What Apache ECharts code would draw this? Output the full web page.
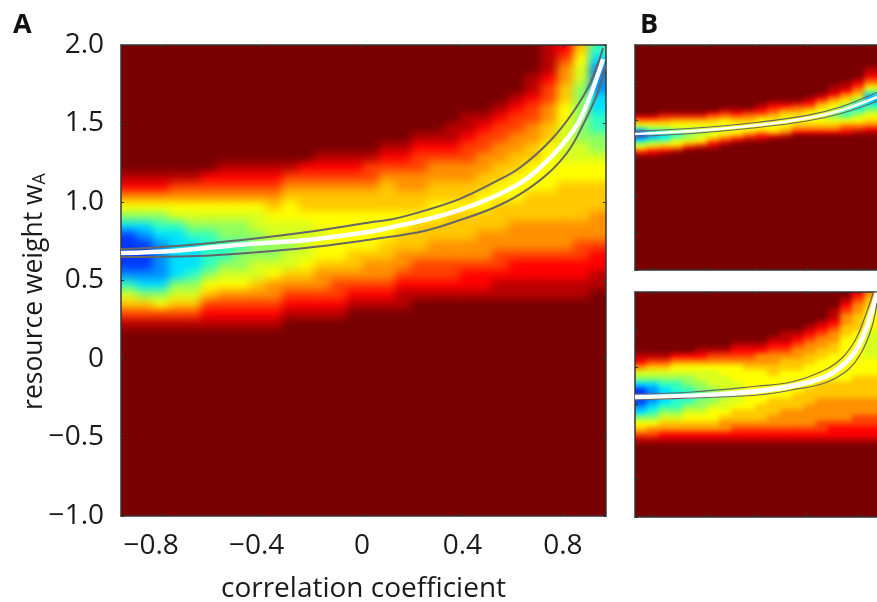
<!DOCTYPE html>
<html><head><meta charset="utf-8">
<style>
html,body{margin:0;padding:0;background:#fff;width:877px;height:602px;overflow:hidden}
#c{width:900px;height:602px}
#c canvas[data-zr-dom-id="zr_0"]{filter:blur(4.5px);clip-path:path('M121 45H606V516H121Z')}
#c canvas[data-zr-dom-id="zr_1"]{filter:blur(2.5px);clip-path:path('M635 45H900V270H635Z M635 292H900V517H635Z')}
</style>
<script src="https://cdn.jsdelivr.net/npm/echarts@6/dist/echarts.min.js"></script>
</head><body><div id="c"></div>
<script>
// Colour level per heat cell: 0 = blue ... c = dark red.
// Each column: first non-background row (from the top) and the levels from there down.
const mainStarts = [13,13,13,13,13,13,12,12,12,12,12,12,11,11,11,11,10,10,9,9,8,7,7,6,5,3,0,0,0,0];
const mainLevels = ['ba8642000013579b','ba8642100012479b','ba8643211112469b','b98653222224579b','b98654322234579b','a9865433334679ab',
'ba9865443345689ab','ba9865443445689ab','ba9865544455789ab','ba9876554456889ab','b9876655455789ab','a9877655556789ab',
'ba9877665667889ab','ba9877666667899ab','ba987766667789ab','b9987766667889ab','ba9877766677889ab','ba988776677889abb',
'ba9988776777899ab','ba9887766778899ab','bba9887767778899ab','bba9988776777889aab','ba99887766778889aab','ba998877667778899abb',
'ba998877666778889aabb','bba9988776667778889aabb','bbba998877666667778889aabb','a988776655556677778889aabb','7655444444556677778899aabb','321112233445667778889aabb'];
const topStarts = [19,19,18,18,18,18,18,17,17,17,16,15,15,15,14,13,11,10,9,6];
const topLevels = ['a863002469b','a86421357ab','b986432368a','b976533568b','b97654457a','b97654568b',
'a8765568ab','b98665679b','ba876668a','b9876679b','ba976668ab','ba9876667a','ba8766678b',
'b9876678a','ba9766678a','ba87655678a','bba876544678a','bba8764334689a','ba987532345689b','bba9864212345678ab'];
const botStarts = [11,11,11,11,11,10,10,10,9,9,9,8,7,7,6,5,3,1,0,0];
const botLevels = ['ba8542000124679b','b97542111234689b','b9754322234578ab','a8654332334578ab','a8654433345678ab','ba8655443445678ab',
'b98655544456678ab','b98665554556788ab','ba98666555567789ab','ba98766666667789ab','ba88766666677789ab','ba988776666777889ab',
'bba987766666778889ab','ba9887766667778889ab','ba98877666677788889ab','ba988776666777888899ab','bba988776666677788889aab','ba988776666666677788889aab',
'a98877766666666777788899aab','877666655555666777788899aab'];

// Curves.
const aMidX = [-0.96,-0.74,-0.47,-0.21,0.03,0.12,0.26,0.39,0.52,0.63,0.71,0.79,0.86,0.91,0.96];
const aMidY = [0.675,0.69,0.73,0.76,0.81,0.84,0.89,0.95,1.03,1.12,1.22,1.35,1.50,1.68,1.91];
const aUpX = [-0.96,-0.74,-0.47,-0.21,0.03,0.12,0.26,0.39,0.52,0.63,0.75,0.84,0.91,0.96];
const aUpY = [0.70,0.72,0.76,0.81,0.87,0.89,0.95,1.02,1.12,1.22,1.39,1.57,1.76,1.98];
const aLowX = [-0.96,-0.66,-0.42,-0.21,0.03,0.12,0.26,0.39,0.52,0.63,0.74,0.82,0.88,0.94,0.97];
const aLowY = [0.65,0.656,0.68,0.71,0.76,0.78,0.82,0.885,0.96,1.05,1.18,1.32,1.49,1.70,1.87];
const bX = [-0.95,-0.5,0.016,0.41,0.675,0.95];
const bMidY = [0.813,0.853,0.933,1.027,1.133,1.307];
const bUpY = [0.85,0.89,0.97,1.065,1.18,1.37];
const bLowY = [0.78,0.82,0.90,0.99,1.09,1.25];
const cMidX = [-0.95,-0.5,0.016,0.28,0.54,0.70,0.80,0.88,0.95];
const cMidY = [0.60,0.613,0.68,0.747,0.867,1.053,1.267,1.587,1.987];
const cUpX = [-0.95,-0.5,0.016,0.28,0.54,0.675,0.78,0.855,0.92];
const cUpY = [0.64,0.667,0.747,0.80,0.96,1.12,1.36,1.667,1.987];
const cLowX = [-0.95,-0.5,0.016,0.28,0.54,0.72,0.83,0.91,0.95];
const cLowY = [0.56,0.587,0.627,0.693,0.787,0.96,1.2,1.533,1.853];

const xTicks = [-0.8,-0.4,0,0.4,0.8];
const xTickLabels = ['\u22120.8','\u22120.4','0','0.4','0.8'];
const yTicks = [-1,-0.5,0,0.5,1,1.5,2];
const yTickLabels = ['\u22121.0','\u22120.5','0','0.5','1.0','1.5','2.0'];
const levelColors = ['#0038ff','#0090ff','#00e0ff','#30ffc0','#90ff60','#d8ff20','#ffff00','#ffc800','#ff9000','#ff4000','#ff0000','#b80000','#780000'];

const FONT = '"Open Sans","Noto Sans",sans-serif', INK = '#1a1a1a', FRAME = '#333';
const TOP = 2; // canvas layer of axes, curves and text
const panels = [
 {grid:{left:121,top:45,width:485,height:471}, xr:[-0.96,0.972], starts:mainStarts, levels:mainLevels, rows:48, right:true, labels:true, layer:0,
  curves:[[aMidX,aMidY],[aUpX,aUpY],[aLowX,aLowY]], w:[4.5,2,2]},
 {grid:{left:635,top:45,width:242,height:225}, xr:[-0.95,0.95], starts:topStarts, levels:topLevels, rows:60, right:false, labels:false, layer:1,
  curves:[[bX,bMidY],[bX,bUpY],[bX,bLowY]], w:[2.5,1.2,1.2]},
 {grid:{left:635,top:292,width:242,height:225}, xr:[-0.95,0.95], starts:botStarts, levels:botLevels, rows:40, right:false, labels:false, layer:1,
  curves:[[cMidX,cMidY],[cUpX,cUpY],[cLowX,cLowY]], w:[5,1.2,1.2]}
];
const grids=[],xAxes=[],yAxes=[],series=[],heatIdx=[];
const line = {show:true,onZero:false,lineStyle:{color:FRAME,width:1.5}};
const tick = {show:true,inside:true,length:3,lineStyle:{color:FRAME,width:1}};
const lab = {color:INK,fontFamily:FONT,fontSize:28};
panels.forEach((p,i)=>{ grids.push({...p.grid,show:false,outerBoundsMode:'none'}); });
panels.forEach((p,i)=>{
  const cols=p.levels.length, cw=p.grid.width/cols, ch=p.grid.height/p.rows;
  // heat cells run one cell past the frame on each side, so that the soft layer stays opaque up to it
  const hg=grids.length;
  grids.push({left:p.grid.left-cw,top:p.grid.top-ch,width:p.grid.width+2*cw,height:p.grid.height+2*ch,show:false,outerBoundsMode:'none'});
  const bx=xAxes.length, by=yAxes.length;
  const num=n=>Array.from({length:n},(_,k)=>k);
  xAxes.push({type:'category',gridIndex:hg,data:num(cols+2),show:false,zlevel:TOP});
  yAxes.push({type:'category',gridIndex:hg,data:num(p.rows+2),inverse:true,show:false,zlevel:TOP});
  xAxes.push({type:'value',gridIndex:i,position:'bottom',zlevel:TOP,min:p.xr[0],max:p.xr[1],splitLine:{show:false},axisLine:line,
    axisTick:{...tick,customValues:xTicks},
    axisLabel:p.labels?{show:true,customValues:xTicks,...lab,margin:16,
      formatter:v=>{const k=xTicks.indexOf(v);return k===0?'{far|'+xTickLabels[k]+'}':k===1?'{near|'+xTickLabels[k]+'}':xTickLabels[k];},
      rich:{far:{...lab,padding:[0,20,0,0]},near:{...lab,padding:[0,10,0,0]}}}:{show:false},
    name:p.labels?'correlation coefficient':'',nameLocation:'middle',nameGap:59,nameMoveOverlap:false,nameTextStyle:lab});
  xAxes.push({type:'value',gridIndex:i,position:'top',zlevel:TOP,min:p.xr[0],max:p.xr[1],splitLine:{show:false},axisLine:line,
    axisTick:{...tick,customValues:xTicks},axisLabel:{show:false}});
  yAxes.push({type:'value',gridIndex:i,position:'left',zlevel:TOP,min:-1,max:2,interval:0.5,splitLine:{show:false},axisLine:line,axisTick:tick,
    axisLabel:p.labels?{show:true,formatter:v=>yTickLabels[yTicks.indexOf(v)],...lab,margin:17}:{show:false},
    name:p.labels?'{a|resource weight w}{b|A}':'',nameLocation:'middle',nameGap:72,nameMoveOverlap:false,nameRotate:90,
    nameTextStyle:{padding:[0,22,0,0],rich:{a:{color:INK,fontFamily:FONT,fontSize:26.5},b:{color:INK,fontFamily:FONT,fontSize:18,verticalAlign:'bottom',padding:[12,0,0,0]}}}});
  yAxes.push({type:'value',gridIndex:i,position:'right',zlevel:TOP,min:-1,max:2,interval:0.5,splitLine:{show:false},
    axisLine:p.right?line:{show:false},axisTick:p.right?tick:{show:false},axisLabel:{show:false}});
  const cells=[];
  for(let c=-1;c<=cols;c++){
    const cc=Math.min(cols-1,Math.max(0,c));
    for(let r=-1;r<=p.rows;r++){
      const k=Math.max(r,0)-p.starts[cc];
      const s=(k>=0&&k<p.levels[cc].length)?p.levels[cc][k]:'c';
      const lv=parseInt(s,16);
      cells.push({value:[c+1,r+1,lv],itemStyle:{borderWidth:1,borderColor:levelColors[lv]}});
    }
  }
  heatIdx.push(series.length);
  series.push({type:'heatmap',xAxisIndex:bx,yAxisIndex:by,zlevel:p.layer,data:cells,progressive:0,animation:false,silent:true,emphasis:{disabled:true}});
  p.curves.forEach((cv,j)=>{
    series.push({type:'line',xAxisIndex:bx+1,yAxisIndex:by+1,zlevel:TOP,data:cv[0].map((x,k)=>[x,cv[1][k]]),smooth:0.4,showSymbol:false,symbol:'none',animation:false,silent:true,z:j===0?3:4,
      lineStyle:{color:j===0?'#ffffff':'#666666',width:p.w[j]}});
  });
});
const chart=echarts.init(document.getElementById('c'),null,{renderer:'canvas'});
chart.setOption({
  animation:false,
  title:[{text:'A',left:8,top:7,zlevel:TOP,textStyle:{fontFamily:FONT,fontSize:27,fontWeight:'bold',color:'#111'}},
         {text:'B',left:635,top:7,zlevel:TOP,textStyle:{fontFamily:FONT,fontSize:27,fontWeight:'bold',color:'#111'}}],
  grid:grids,xAxis:xAxes,yAxis:yAxes,
  visualMap:{show:false,type:'continuous',min:0,max:12,seriesIndex:heatIdx,dimension:2,inRange:{color:levelColors}},
  series
});
</script></body></html>
